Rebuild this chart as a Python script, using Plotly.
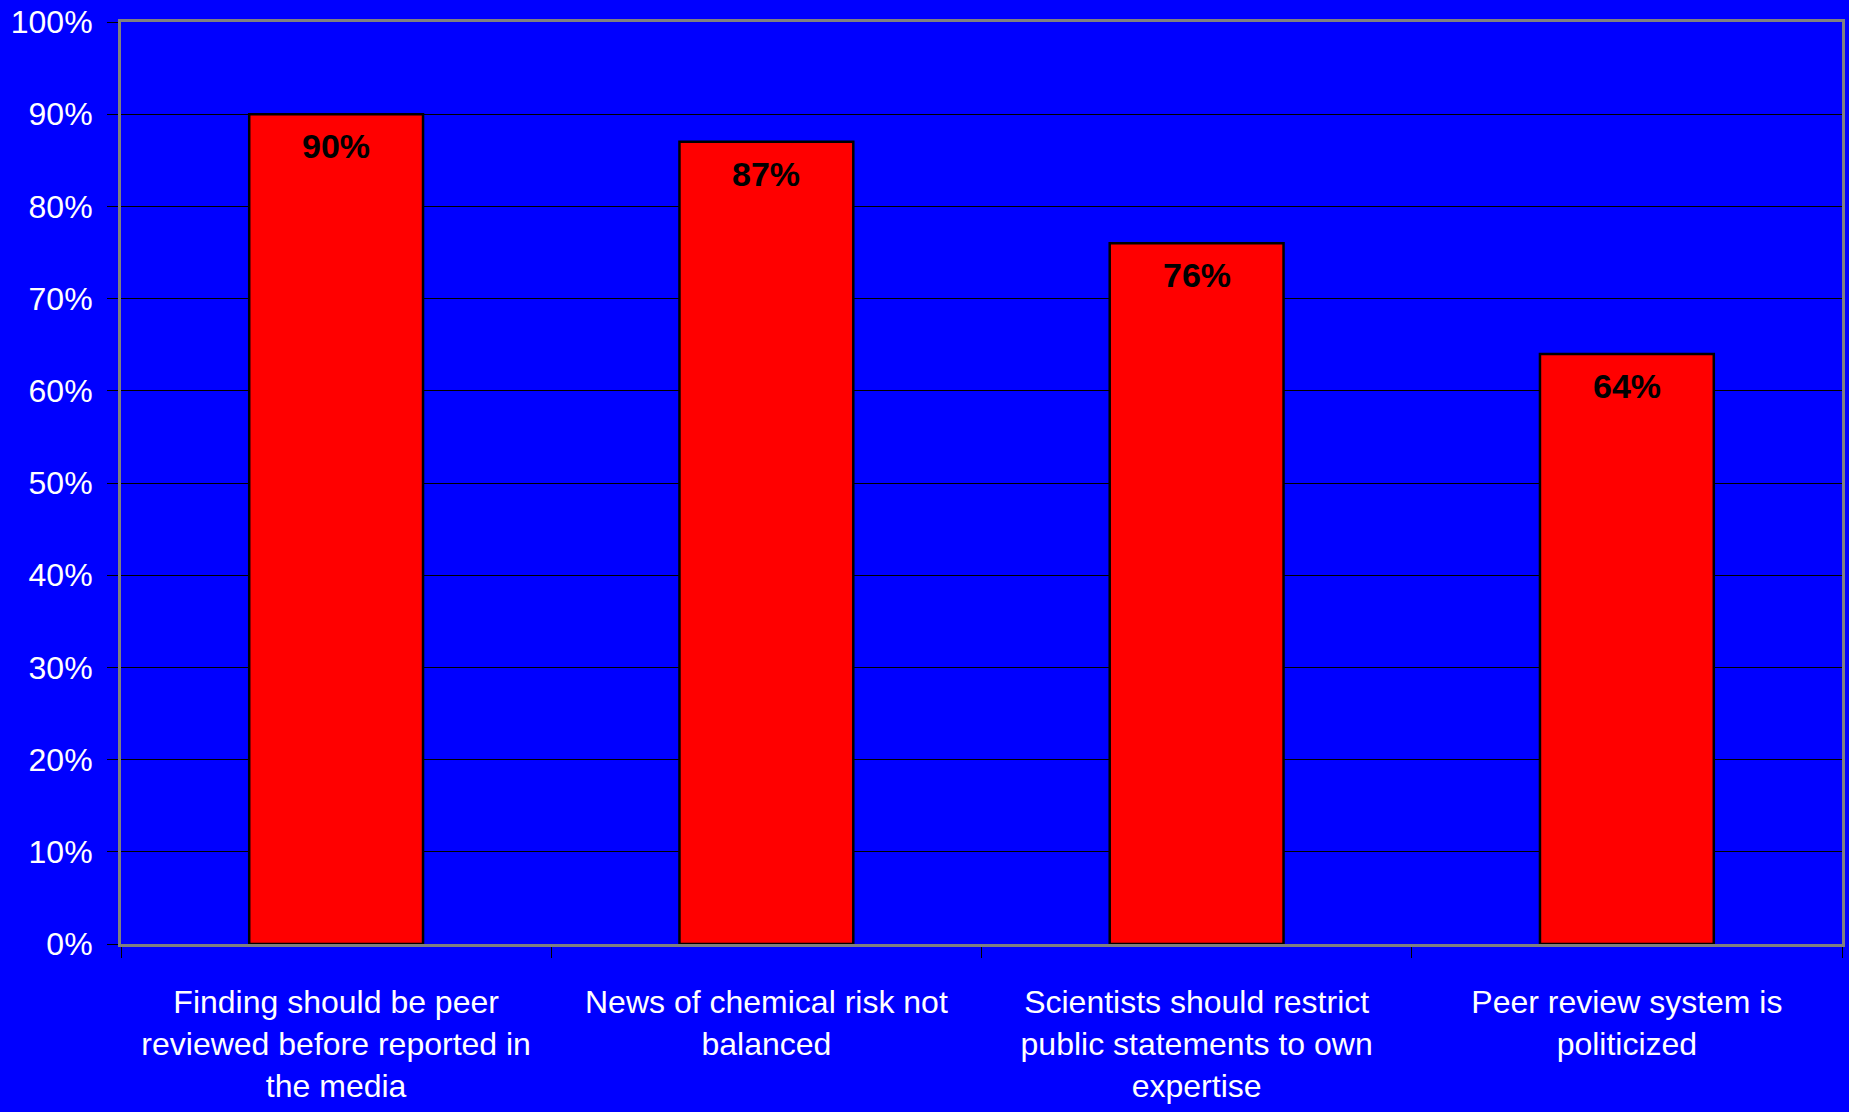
import plotly.graph_objects as go

categories = [
    "Finding should be peer<br>reviewed before reported in<br>the media",
    "News of chemical risk not<br>balanced",
    "Scientists should restrict<br>public statements to own<br>expertise",
    "Peer review system is<br>politicized",
]
values = [0.90, 0.87, 0.76, 0.64]
value_labels = ["90%", "87%", "76%", "64%"]
y_ticks = [0, 0.1, 0.2, 0.3, 0.4, 0.5, 0.6, 0.7, 0.8, 0.9, 1.0]

FONT = "Liberation Sans, Arial, sans-serif"

fig = go.Figure()
fig.add_trace(go.Bar(
    x=categories,
    y=values,
    marker=dict(color="#FF0000", line=dict(color="#000000", width=2.5)),
    width=0.404,
    hoverinfo="skip",
))

for c, v, t in zip(categories, values, value_labels):
    fig.add_annotation(
        x=c, y=v, text="<b>" + t + "</b>", showarrow=False,
        yanchor="middle", yshift=-32,
        font=dict(family=FONT, size=34, color="#000000"),
    )

fig.update_layout(
    width=1849, height=1112,
    margin=dict(l=121, r=7, t=22, b=168),
    paper_bgcolor="#0000FF",
    plot_bgcolor="#0000FF",
    showlegend=False,
    font=dict(family=FONT, color="#FFFFFF", size=32),
)
fig.update_xaxes(
    type="category",
    automargin=False,
    tickangle=0,
    showline=True, linecolor="#808080", linewidth=3, mirror=True,
    ticks="outside", tickson="boundaries", ticklen=11, tickcolor="#000000", tickwidth=1,
    showgrid=False,
    tickfont=dict(family=FONT, size=32, color="#FFFFFF"),
    ticklabelstandoff=28,
)
fig.update_yaxes(
    range=[0, 1],
    automargin=False,
    tickvals=y_ticks,
    tickformat=".0%",
    showline=True, linecolor="#808080", linewidth=3, mirror=True,
    ticks="outside", ticklen=11, tickcolor="#000000", tickwidth=1,
    showgrid=True, gridcolor="#000000", gridwidth=1,
    zeroline=False,
    tickfont=dict(family=FONT, size=32, color="#FFFFFF"),
    ticklabelstandoff=8,
)

fig.write_html("out.html")
